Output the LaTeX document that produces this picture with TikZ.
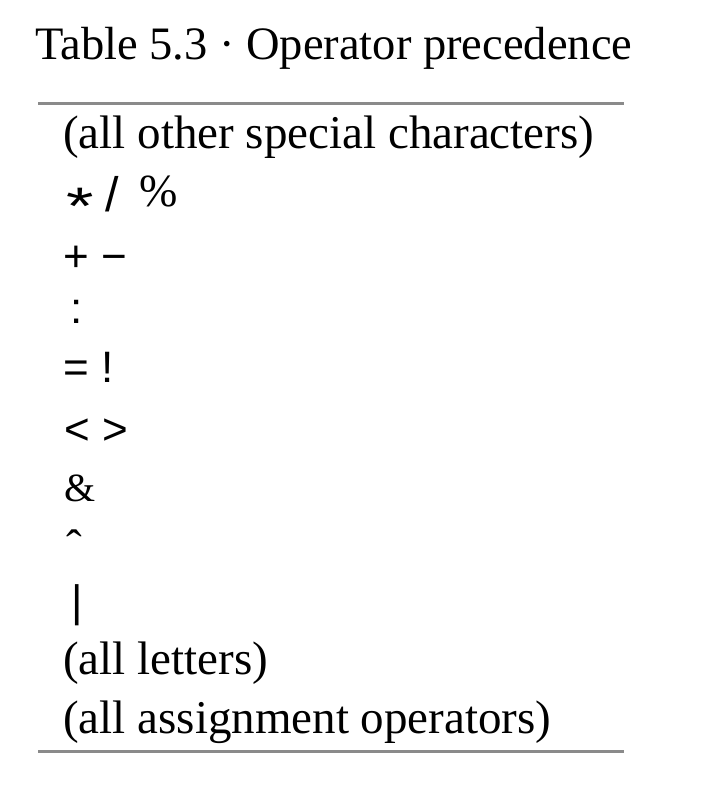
\documentclass[tikz,border=0pt]{standalone}
\usepackage{graphicx}
\usepackage{fontspec}
\setmainfont{Liberation Serif}
\newfontfamily\opfont{Liberation Sans}
\definecolor{rulegray}{HTML}{8A8A8A}
\begin{document}
\begin{tikzpicture}[x=1pt,y=-1pt,
  txt/.style={inner sep=0pt, anchor=base west, font=\fontsize{47}{50}\selectfont},
  op/.style={inner sep=0pt, anchor=base west, font=\opfont\fontsize{44}{50}\selectfont},
  ttl/.style={inner sep=0pt, anchor=base west, font=\fontsize{46.5}{50}\selectfont},
  tablerule/.style={draw=rulegray, line width=2.2pt}]
\useasboundingbox (0,0) rectangle (720,798);
\node[ttl] (title) at (35,59) {Table 5.3 · Operator precedence};
\coordinate (t1) at (38,103.5);
\coordinate (t2) at (624,103.5);
\coordinate (b1) at (38,751.5);
\coordinate (b2) at (624,751.5);
\draw[tablerule] (t1) -- (t2);
\draw[tablerule] (b1) -- (b2);
\node[txt] (r1) at (63,148) {(all other special characters)};
\node[op] (r2) at (66,206.5) {\raisebox{-18pt}{\scalebox{1.6}[1.2]{*}}\hspace{12pt}\raisebox{-5pt}{\scalebox{1.1}{/}}\hspace{20pt}{\rmfamily\fontsize{46}{50}\selectfont\%}};
\node[op] (r3) at (63,271) {+ −};
\node[op] (r4) at (70,323.5) {:};
\node[op] (r5) at (63,382) {= !};
\node[op] (r6) at (64,444.5) {< >};
\node[txt, font=\fontsize{40}{44}\selectfont] (r7) at (64,501) {\&};
\node[txt] (r8) at (66,562) {\char"02C6};
\node[op] (r9) at (71,616) {|};
\node[txt] (r10) at (63,674.5) {(all letters)};
\node[txt] (r11) at (63,733) {(all assignment operators)};
\end{tikzpicture}
\end{document}
